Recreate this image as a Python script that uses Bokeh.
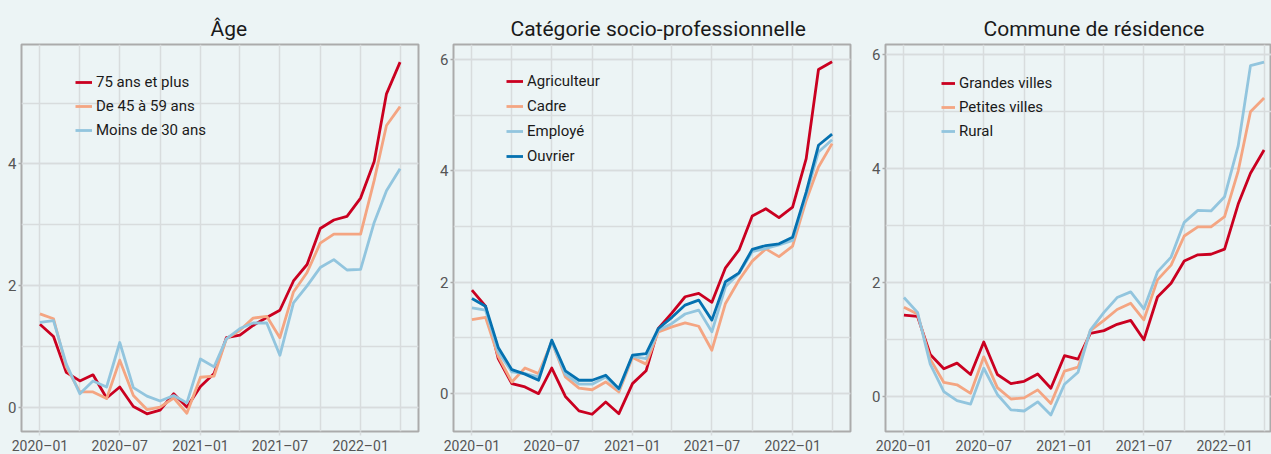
import datetime as dt
from bokeh.plotting import figure
from bokeh.layouts import row
from bokeh.models import (Range1d, FixedTicker, SingleIntervalTicker,
                          DatetimeTickFormatter, Legend, LegendItem)
from bokeh.embed import file_html
from bokeh.resources import INLINE

# ---------------- data ----------------
months = ["2020-01", "2020-02", "2020-03", "2020-04", "2020-05", "2020-06",
          "2020-07", "2020-08", "2020-09", "2020-10", "2020-11", "2020-12",
          "2021-01", "2021-02", "2021-03", "2021-04", "2021-05", "2021-06",
          "2021-07", "2021-08", "2021-09", "2021-10", "2021-11", "2021-12",
          "2022-01", "2022-02", "2022-03", "2022-04"]
tick_months = ["2020-01", "2020-07", "2021-01", "2021-07", "2022-01"]
minor_months = ["2020-04", "2020-10", "2021-04", "2021-10", "2022-04"]

titles = ["Âge", "Catégorie socio-professionnelle", "Commune de résidence"]

age_labels = ["75 ans et plus", "De 45 à 59 ans", "Moins de 30 ans"]
age_75 = [1.37, 1.17, 0.58, 0.44, 0.54, 0.16, 0.34, 0.02, -0.10, -0.04, 0.23, 0.01,
          0.35, 0.56, 1.15, 1.19, 1.35, 1.48, 1.60, 2.08, 2.35, 2.94, 3.08, 3.14,
          3.44, 4.04, 5.15, 5.67]
age_45 = [1.54, 1.46, 0.67, 0.26, 0.26, 0.15, 0.78, 0.20, -0.03, 0.01, 0.16, -0.09,
          0.50, 0.52, 1.13, 1.27, 1.47, 1.50, 1.15, 1.90, 2.22, 2.70, 2.85, 2.85,
          2.85, 3.73, 4.63, 4.94]
age_30 = [1.40, 1.43, 0.72, 0.23, 0.44, 0.34, 1.07, 0.33, 0.19, 0.11, 0.20, 0.08,
          0.80, 0.67, 1.13, 1.30, 1.39, 1.39, 0.86, 1.72, 2.00, 2.30, 2.43, 2.26,
          2.27, 3.04, 3.56, 3.92]

csp_labels = ["Agriculteur", "Cadre", "Employé", "Ouvrier"]
agriculteur = [1.86, 1.57, 0.63, 0.18, 0.12, 0.00, 0.46, -0.05, -0.31, -0.37, -0.15, -0.36,
               0.18, 0.41, 1.17, 1.45, 1.74, 1.80, 1.64, 2.26, 2.58, 3.19, 3.32, 3.16,
               3.35, 4.22, 5.82, 5.96]
cadre = [1.33, 1.37, 0.67, 0.21, 0.46, 0.36, 0.93, 0.30, 0.10, 0.07, 0.21, 0.03,
         0.65, 0.53, 1.11, 1.20, 1.27, 1.21, 0.78, 1.62, 2.04, 2.38, 2.60, 2.46,
         2.65, 3.47, 4.07, 4.49]
employe = [1.54, 1.50, 0.75, 0.39, 0.36, 0.30, 0.93, 0.35, 0.17, 0.17, 0.30, 0.07,
           0.67, 0.63, 1.14, 1.26, 1.43, 1.50, 1.11, 1.92, 2.16, 2.55, 2.61, 2.67,
           2.75, 3.56, 4.34, 4.56]
ouvrier = [1.71, 1.57, 0.83, 0.43, 0.35, 0.24, 0.96, 0.41, 0.24, 0.24, 0.33, 0.09,
           0.69, 0.72, 1.17, 1.37, 1.59, 1.68, 1.32, 2.01, 2.17, 2.59, 2.66, 2.69,
           2.81, 3.62, 4.46, 4.66]

commune_labels = ["Grandes villes", "Petites villes", "Rural"]
grandes_villes = [1.43, 1.41, 0.74, 0.49, 0.59, 0.39, 0.96, 0.39, 0.23, 0.27, 0.40, 0.15,
                  0.72, 0.66, 1.11, 1.16, 1.27, 1.34, 1.00, 1.75, 1.99, 2.38, 2.49, 2.50,
                  2.59, 3.38, 3.92, 4.33]
petites_villes = [1.57, 1.45, 0.66, 0.25, 0.21, 0.06, 0.70, 0.16, -0.04, -0.02, 0.12, -0.12,
                  0.45, 0.52, 1.16, 1.34, 1.53, 1.64, 1.35, 2.05, 2.31, 2.82, 2.98, 2.98,
                  3.16, 3.96, 5.00, 5.24]
rural = [1.74, 1.48, 0.57, 0.09, -0.07, -0.13, 0.50, 0.04, -0.23, -0.25, -0.09, -0.32,
         0.22, 0.43, 1.17, 1.48, 1.74, 1.84, 1.54, 2.19, 2.45, 3.06, 3.27, 3.26,
         3.51, 4.40, 5.81, 5.87]

# ---------------- style ----------------
FONT = "Roboto"
BG = "#ECF4F5"
GRID = "#D8DCDD"
FRAME = "#ABABAB"
RED, SALMON, LIGHTBLUE, DARKBLUE = "#CA0020", "#F4A582", "#92C5DE", "#0571B0"


def to_date(m):
    return dt.datetime.strptime(m, "%Y-%m")


def to_ms(d):
    return (d - dt.datetime(1970, 1, 1)).total_seconds() * 1000.0


dates = [to_date(m) for m in months]
X0 = dt.datetime(2019, 11, 20)
X1 = dt.datetime(2022, 5, 13)
FULL_W = 397


def make_panel(title, yr, series, frame_width, left, right, title_offset,
               legend_xy, glyph_w, spacing):
    x_end = X0 + (X1 - X0) * (frame_width / FULL_W)
    p = figure(x_axis_type="datetime",
               x_range=Range1d(X0, x_end), y_range=Range1d(*yr),
               frame_width=frame_width, frame_height=387,
               min_border_left=left, min_border_right=right,
               min_border_top=44, min_border_bottom=23,
               output_backend="svg", toolbar_location=None, title=title)
    p.background_fill_color = BG
    p.border_fill_color = BG
    p.outline_line_color = FRAME
    p.outline_line_width = 2

    p.title.text_font = FONT
    p.title.text_font_size = "21px"
    p.title.text_font_style = "normal"
    p.title.text_color = "#1A1A1A"
    p.title.align = "left"
    p.title.offset = title_offset
    p.title.standoff = 7

    # x axis
    xt = FixedTicker(ticks=[to_ms(to_date(m)) for m in tick_months],
                     minor_ticks=[to_ms(to_date(m)) for m in minor_months])
    p.xaxis.ticker = xt
    p.xaxis.formatter = DatetimeTickFormatter(days="%Y–%m", months="%Y–%m",
                                              years="%Y–%m")
    p.xaxis.axis_line_color = None
    p.xaxis.major_tick_line_color = GRID
    p.xaxis.major_tick_line_width = 1.5
    p.xaxis.major_tick_in = 0
    p.xaxis.major_tick_out = 4
    p.xaxis.minor_tick_line_color = None
    p.xaxis.major_label_standoff = 2
    p.xaxis.major_label_text_font = FONT
    p.xaxis.major_label_text_font_size = "14px"
    p.xaxis.major_label_text_color = "#555555"

    # y axis
    p.yaxis.ticker = SingleIntervalTicker(interval=2, num_minor_ticks=2)
    p.yaxis.axis_line_color = None
    p.yaxis.major_tick_line_color = FRAME
    p.yaxis.major_tick_line_width = 1.5
    p.yaxis.major_tick_in = 0
    p.yaxis.major_tick_out = 3
    p.yaxis.minor_tick_line_color = None
    p.yaxis.major_label_standoff = 1
    p.yaxis.major_label_text_font = FONT
    p.yaxis.major_label_text_font_size = "15px"
    p.yaxis.major_label_text_color = "#555555"

    for g in (p.xgrid, p.ygrid):
        g.grid_line_color = GRID
        g.grid_line_width = 1.5
        g.minor_grid_line_color = GRID
        g.minor_grid_line_width = 1.5

    items = []
    for label, vals, color in series:
        r = p.line(dates, vals, line_width=2.8, line_color=color, line_join="round")
        items.append(LegendItem(label=label, renderers=[r]))

    leg = Legend(items=items, location=legend_xy)
    leg.background_fill_alpha = 0
    leg.border_line_color = None
    leg.padding = 0
    leg.margin = 0
    leg.spacing = spacing
    leg.glyph_width = glyph_w
    leg.glyph_height = 20
    leg.label_height = 20
    leg.label_standoff = 4
    leg.label_text_font = FONT
    leg.label_text_font_size = "15px"
    leg.label_text_color = "#1A1A1A"
    p.add_layout(leg)
    return p


p1 = make_panel(titles[0], (-0.39, 5.96),
                [(age_labels[0], age_75, RED),
                 (age_labels[1], age_45, SALMON),
                 (age_labels[2], age_30, LIGHTBLUE)],
                397, 21, 2, 189, (54, 291), 17, 4)
p2 = make_panel(titles[1], (-0.68, 6.27),
                [(csp_labels[0], agriculteur, RED),
                 (csp_labels[1], cadre, SALMON),
                 (csp_labels[2], employe, LIGHTBLUE),
                 (csp_labels[3], ouvrier, DARKBLUE)],
                397, 33, 2, 57, (53, 265), 17, 5)
p3 = make_panel(titles[2], (-0.61, 6.18),
                [(commune_labels[0], grandes_villes, RED),
                 (commune_labels[1], petites_villes, SALMON),
                 (commune_labels[2], rural, LIGHTBLUE)],
                386, 33, 0, 98, (56, 290), 14, 4)

layout = row(p1, p2, p3)

try:
    from bokeh.core.templates import get_env
    tmpl = get_env().from_string(
        '{% extends "file.html" %}'
        '{% block preamble %}<style>html, body { background: #ECF4F5; overflow: hidden; }</style>{% endblock %}'
    )
    html = file_html(layout, INLINE, template=tmpl)
except Exception:
    html = file_html(layout, INLINE)

open("out.html", "w").write(html)
